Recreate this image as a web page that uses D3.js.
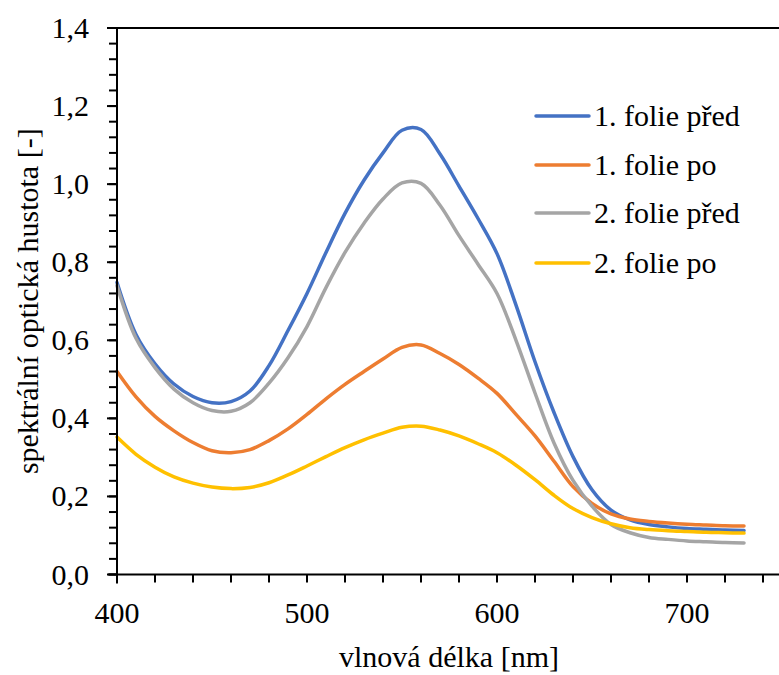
<!DOCTYPE html>
<html><head><meta charset="utf-8">
<script src="https://cdn.jsdelivr.net/npm/d3@7"></script>
<style>body{margin:0;background:#fff}svg{display:block}</style>
</head><body><div id="chart"></div>
<script>
const wavelengths = [400,410,420,430,440,450,460,470,480,490,500,510,520,530,540,550,560,570,580,590,600,610,620,630,640,650,660,670,680,690,700,710,720,730];
const folie1Pred = [0.748,0.615,0.540,0.488,0.456,0.440,0.443,0.470,0.535,0.625,0.720,0.825,0.925,1.010,1.080,1.138,1.140,1.077,0.995,0.912,0.822,0.690,0.545,0.415,0.302,0.217,0.165,0.140,0.128,0.122,0.118,0.116,0.114,0.113];
const folie1Po = [0.520,0.455,0.405,0.368,0.338,0.317,0.312,0.320,0.343,0.373,0.410,0.450,0.487,0.520,0.552,0.582,0.588,0.566,0.538,0.503,0.464,0.410,0.355,0.290,0.225,0.182,0.155,0.142,0.136,0.132,0.129,0.127,0.125,0.124];
const folie2Pred = [0.740,0.605,0.530,0.475,0.440,0.420,0.418,0.440,0.490,0.555,0.635,0.735,0.825,0.900,0.962,1.003,1.002,0.946,0.868,0.795,0.720,0.600,0.465,0.337,0.241,0.175,0.128,0.107,0.095,0.090,0.086,0.084,0.082,0.081];
const folie2Po = [0.352,0.308,0.275,0.250,0.234,0.224,0.220,0.223,0.235,0.255,0.278,0.302,0.325,0.345,0.362,0.377,0.380,0.370,0.355,0.335,0.312,0.280,0.243,0.203,0.169,0.146,0.130,0.120,0.115,0.112,0.110,0.108,0.107,0.106];
const seriesNames = ["1. folie před","1. folie po","2. folie před","2. folie po"];
const seriesColors = ["#4472C4","#ED7D31","#A5A5A5","#FFC000"];
const xTicks = [400,500,600,700];
const yTicks = [0,0.2,0.4,0.6,0.8,1.0,1.2,1.4];

const FONT = "Liberation Serif";
const W = 779, H = 675;
const svg = d3.select("#chart").append("svg").attr("width", W).attr("height", H)
  .style("font-family", FONT, "important");
const x = d3.scaleLinear().domain([400, 750]).range([117, 782]);
const y = d3.scaleLinear().domain([0, 1.4]).range([574.5, 28]);

const seriesData = [folie1Pred, folie1Po, folie2Pred, folie2Po];

svg.append("line").attr("x1", x(400)).attr("x2", W).attr("y1", y(1.4)).attr("y2", y(1.4))
  .attr("stroke", "#000").attr("stroke-width", 2);

const line = d3.line().x((d, i) => x(wavelengths[i])).y(d => y(d)).curve(d3.curveCatmullRom.alpha(0.5));
[0,1,2,3].forEach(k => {
  svg.append("path").datum(seriesData[k]).attr("d", line)
    .attr("fill", "none").attr("stroke", seriesColors[k]).attr("stroke-width", 3.5).attr("stroke-linecap", "round");
});

function txt(sel) {
  return sel.attr("font-family", FONT).style("font-family", FONT, "important")
    .style("font-size", "30px").attr("fill", "#000");
}

const xMinor = d3.range(400, 760, 20);
const gx = svg.append("g").attr("transform", `translate(0,${y(0)})`);
gx.append("line").attr("x1", x(400) - 9).attr("x2", W).attr("stroke", "#000").attr("stroke-width", 2);
gx.selectAll("line.mn").data(xMinor).join("line").attr("class", "mn")
  .attr("x1", d => x(d)).attr("x2", d => x(d)).attr("y1", 0).attr("y2", 8)
  .attr("stroke", "#000").attr("stroke-width", 2);
txt(gx.selectAll("text").data(xTicks).join("text")
  .attr("x", d => x(d)).attr("y", 48).attr("text-anchor", "middle")).text(d => d);

const yMinor = d3.range(0, 1.4001, 0.04);
const gy = svg.append("g").attr("transform", `translate(${x(400)},0)`);
gy.append("line").attr("y1", y(1.4)).attr("y2", y(0) + 9).attr("stroke", "#000").attr("stroke-width", 2);
gy.selectAll("line.mn").data(yMinor).join("line").attr("class", "mn")
  .attr("x1", -8).attr("x2", 0).attr("y1", d => y(d)).attr("y2", d => y(d))
  .attr("stroke", "#000").attr("stroke-width", 2);
gy.selectAll("line.mj").data(yTicks).join("line").attr("class", "mj")
  .attr("x1", -10).attr("x2", 0).attr("y1", d => y(d)).attr("y2", d => y(d))
  .attr("stroke", "#000").attr("stroke-width", 2);
txt(gy.selectAll("text").data(yTicks).join("text")
  .attr("x", -28).attr("y", d => y(d) + 10).attr("text-anchor", "end"))
  .text(d => d3.format(".1f")(d).replace(".", ","));

txt(svg.append("text").attr("x", 449).attr("y", 667).attr("text-anchor", "middle")).text("vlnová délka [nm]");
txt(svg.append("text").attr("transform", `translate(38,${(y(0)+y(1.4))/2}) rotate(-90)`)
  .attr("text-anchor", "middle")).text("spektrální optická hustota [-]");

const legY = [116, 165, 213, 263];
seriesNames.forEach((n, k) => {
  svg.append("line").attr("x1", 536).attr("x2", 589).attr("y1", legY[k]).attr("y2", legY[k])
    .attr("stroke", seriesColors[k]).attr("stroke-width", 3.5).attr("stroke-linecap", "round");
  txt(svg.append("text").attr("x", 594).attr("y", legY[k] + 10)).text(n);
});
</script></body></html>
